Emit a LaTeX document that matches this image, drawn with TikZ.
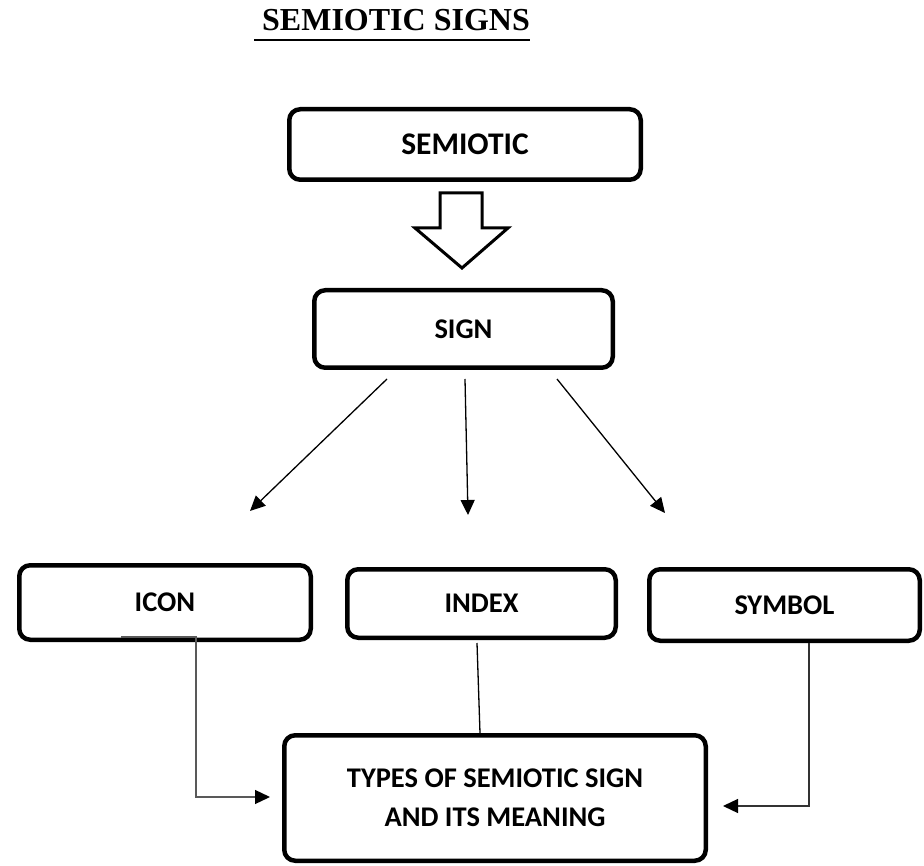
\documentclass[tikz,border=0pt]{standalone}
\usepackage{fontspec}
\setmainfont{Carlito}
\newfontfamily\titlefont{Liberation Serif}
\usetikzlibrary{arrows.meta}
\begin{document}
\begin{tikzpicture}[x=1pt,y=-1pt,
  box/.style={draw, line width=4.5pt, rounded corners=11pt, inner sep=0pt, align=center,
    font=\bfseries\fontsize{28.5}{39}\selectfont},
  tip/.style={-{Triangle[length=15pt,width=14pt,color=black]}},
  conn/.style={line width=1.3pt},
]
\useasboundingbox (0,0) rectangle (924,866);

% title
\node[anchor=base west, inner sep=0pt, font=\titlefont\bfseries\fontsize{32}{36}\selectfont] (title) at (262,31) {SEMIOTIC SIGNS};
\draw[line width=2.2pt] ([shift={(-8,9)}]title.base west) -- ([shift={(0,9)}]title.base east);

% boxes
\node[box, minimum width=351.5pt, minimum height=70.5pt, font=\bfseries\fontsize{31.5}{39}\selectfont] (semiotic) at (465,144.5) {SEMIOTIC};
\node[box, minimum width=298.5pt, minimum height=77.5pt] (sign) at (463.5,329) {SIGN};
\node[box, minimum width=291.5pt, minimum height=74.5pt] (icon) at (165,602.5) {ICON};
\node[box, minimum width=268.5pt, minimum height=68.5pt] (index) at (481.5,603.5) {INDEX};
\node[box, minimum width=270.5pt, minimum height=71.5pt] (symbol) at (784.5,605) {SYMBOL};
\node[box, minimum width=421.5pt, minimum height=125.5pt] (types) at (495,798) {TYPES OF SEMIOTIC SIGN\\AND ITS MEANING};

% hollow arrow
\draw[line width=3pt, line join=miter] (440,193) -- (482,193) -- (482,228) -- (508,228) -- (462,268) -- (415,228) -- (440,228) -- cycle;

% arrows from sign
\coordinate (e1) at (250,511);
\coordinate (e2) at (468,515);
\coordinate (e3) at (665,513);
\draw[conn, tip] ([shift={(-76.5,9)}]sign.south) -- (e1);
\draw[conn, tip] ([shift={(1.5,9)}]sign.south) -- (e2);
\draw[conn, tip] ([shift={(93.5,9)}]sign.south) -- (e3);

% to types
\draw[conn, draw=black!65, tip] ([shift={(-44,-5)}]icon.south) -- ++(75,0) |- ([shift={(-12,-1)}]types.west);
\draw[conn] ([shift={(-4.5,3)}]index.south) -- ([shift={(-15,0)}]types.north);
\draw[conn, draw=black!80, tip] ([xshift=24.5pt]symbol.south) |- ([shift={(15,8)}]types.east);
\end{tikzpicture}
\end{document}
